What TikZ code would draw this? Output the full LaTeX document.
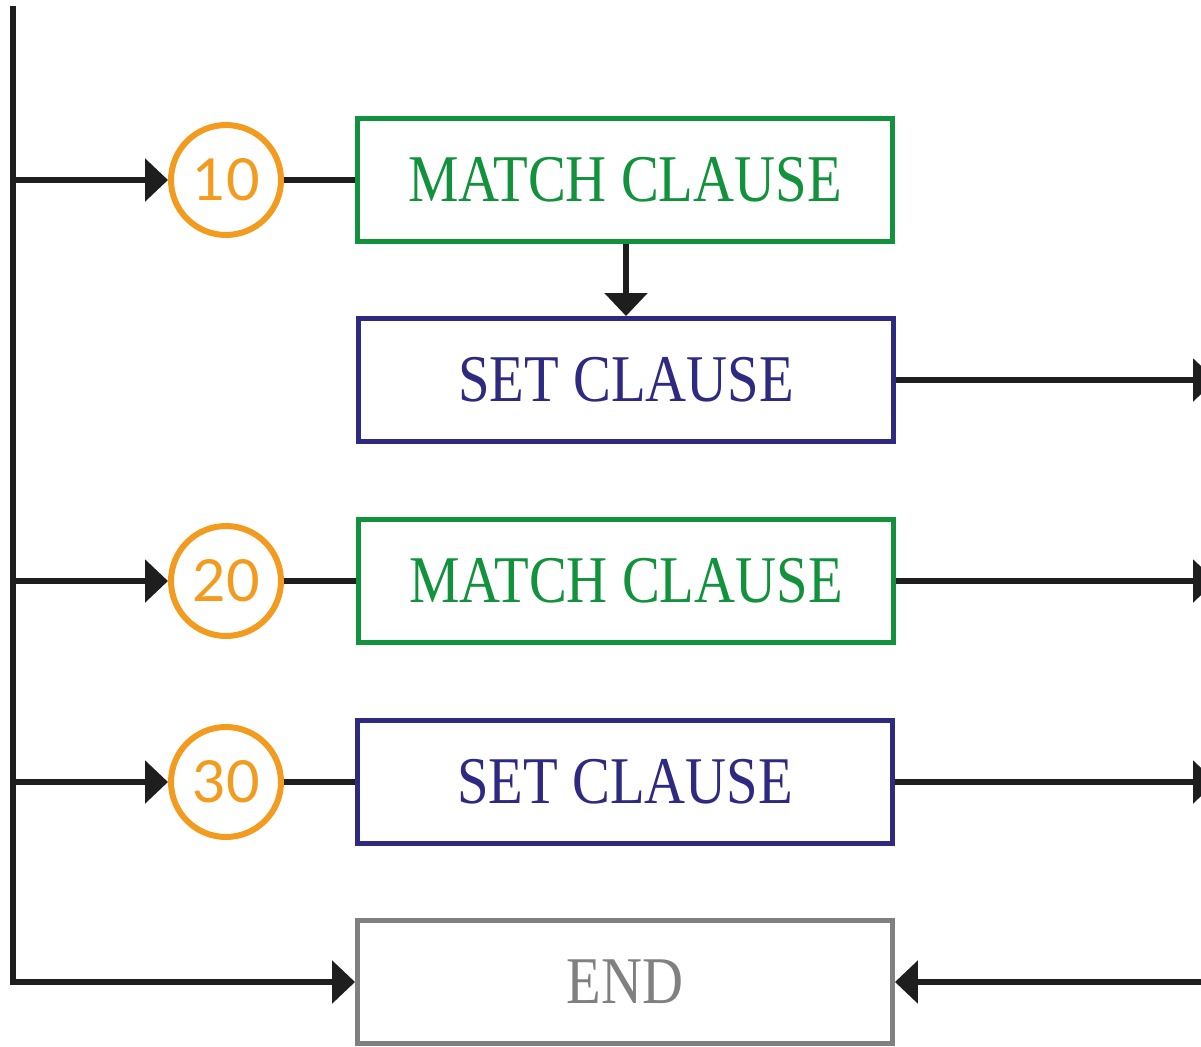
\documentclass[tikz,border=0pt]{standalone}
\usepackage{fontspec}
\setmainfont{Liberation Serif}
\newfontfamily\numfont{Lato}
\usetikzlibrary{arrows.meta}
\definecolor{leafgreen}{RGB}{18, 146, 60}
\definecolor{indigo}{RGB}{46, 42, 130}
\definecolor{amber}{RGB}{242, 155, 30}
\definecolor{ash}{RGB}{128, 128, 128}
\definecolor{coal}{RGB}{30, 30, 30}
\newcommand{\narrow}[1]{\scalebox{0.85}[1]{#1}}

\begin{document}
\begin{tikzpicture}[x=0.02cm, y=-0.02cm,
        clause/.style={draw, line width=0.1cm, minimum width=10.7cm, minimum height=2.46cm,
                       inner sep=0pt, font=\fontsize{38}{40}\selectfont},
        step number/.style={circle, draw=amber, text=amber, line width=0.12cm, minimum size=2.2cm,
                       inner sep=0pt, font=\numfont\fontsize{33}{35}\selectfont},
        wire/.style={draw=coal, line width=0.13cm},
        flow/.style={wire, -{Triangle[length=0.46cm, width=0.84cm]}}]
            \useasboundingbox (0,0) rectangle (1201,1046);
            \clip (0,0) rectangle (1201,1046);
            % boxes
            \node[clause, color=leafgreen] (match1) at (625, 180) {\narrow{MATCH CLAUSE}};
            \node[clause, color=indigo]    (set1)   at (626, 380) {\narrow{SET CLAUSE}};
            \node[clause, color=leafgreen] (match2) at (626, 581) {\narrow{MATCH CLAUSE}};
            \node[clause, color=indigo]    (set2)   at (625, 782) {\narrow{SET CLAUSE}};
            \node[clause, color=ash]       (end)    at (625, 982) {\narrow{END}};
            % step numbers
            \node[step number] (n10) at (226, 180) {10};
            \node[step number] (n20) at (226, 581) {20};
            \node[step number] (n30) at (226, 782) {30};
            % outgoing ends
            \coordinate (out1) at (1216, 380);
            \coordinate (out2) at (1216, 581);
            \coordinate (out3) at (1216, 782);
            \coordinate (back) at (1230, 982);
            % main rail
            \draw[flow, line join=miter] (13, 6) -- (13, 982) -- (end.west);
            \draw[flow] (13, 180) -- (n10.west);
            \draw[flow] (13, 581) -- (n20.west);
            \draw[flow] (13, 782) -- (n30.west);
            \draw[wire] (n10.east) -- (match1.west);
            \draw[wire] (n20.east) -- (match2.west);
            \draw[wire] (n30.east) -- (set2.west);
            \draw[flow] (set1.north |- match1.south) -- (set1.north);
            \draw[flow] (set1.east)   -- (out1);
            \draw[flow] (match2.east) -- (out2);
            \draw[flow] (set2.east)   -- (out3);
            \draw[flow] (back) -- (end.east);
        \end{tikzpicture}
\end{document}
